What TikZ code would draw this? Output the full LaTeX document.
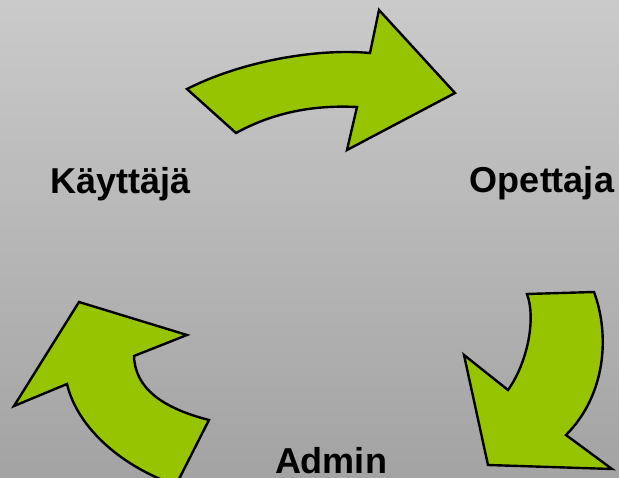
\documentclass[tikz,border=0pt]{standalone}
\usepackage{fontspec}
\setmainfont{Liberation Sans}
\usepackage{tikz}

\definecolor{verde}{RGB}{151,196,0}
\definecolor{sfondoalto}{RGB}{202,202,202}
\definecolor{sfondobasso}{RGB}{163,163,163}

\tikzset{
	freccia/.style={draw=black, line width=2.4pt, fill=verde},
	etichetta/.style={font=\bfseries\fontsize{36}{40}\selectfont, anchor=base, inner sep=0pt}
}

\begin{document}
\begin{tikzpicture}[x=1pt, y=-1pt]
				% Sfondo
				\shade[top color=sfondoalto, bottom color=sfondobasso] (0, 0) rectangle (619, 478);
				\useasboundingbox (0, 0) rectangle (619, 478);
				
				% Frecce del ciclo
				\begin{scope}
					\clip (0, 0) rectangle (619, 478);
					\draw[freccia] (187, 89) -- (236, 133) .. controls (276, 111) and (317, 105) .. (357, 107)
						-- (347, 150) -- (455, 93) -- (379, 10) -- (370, 53)
						.. controls (315, 48) and (240, 62) .. cycle;
					\draw[freccia] (527, 294) -- (594, 292) .. controls (610, 335) and (606, 395) .. (566, 435)
						-- (612, 469) -- (488, 465) -- (464, 355) -- (508, 390)
						.. controls (528, 362) and (536, 318) .. cycle;
					\draw[freccia] (209, 420) .. controls (162, 408) and (135, 388) .. (134, 356)
						-- (187, 335) -- (79, 302) -- (14, 406) -- (67, 384)
						.. controls (78, 430) and (125, 468) .. (176, 485) -- cycle;
				\end{scope}
				
				% Ruoli
				\node[etichetta] (utente) at (121, 194) {Käyttäjä};
				\node[etichetta] (opettaja) at (542, 193) {Opettaja};
				\node[etichetta] (admin) at (331, 473) {Admin};
			\end{tikzpicture}
\end{document}
